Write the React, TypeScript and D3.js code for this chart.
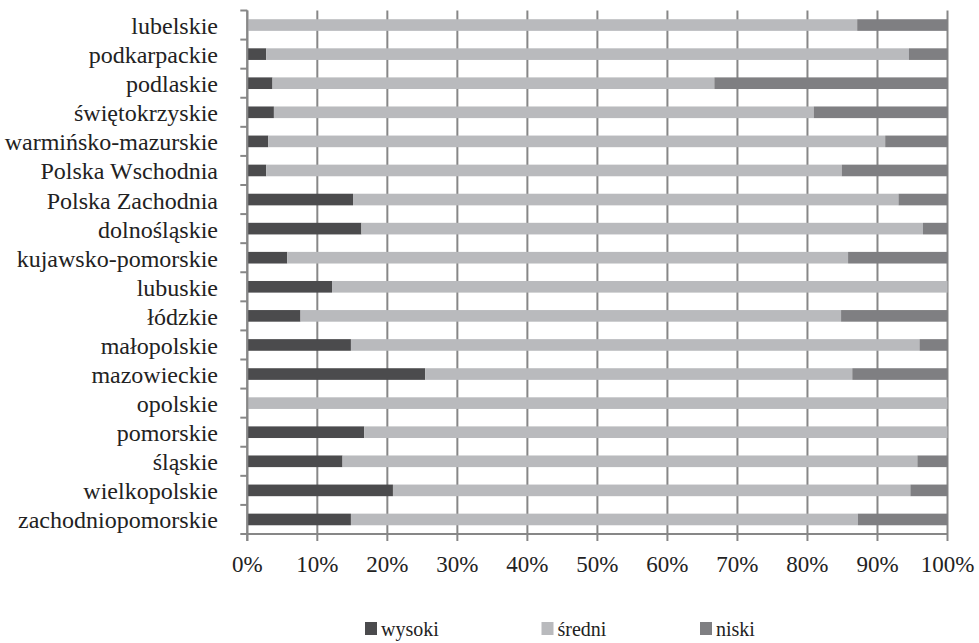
import React from "react";
import * as d3 from "d3";

const categories = [
  "lubelskie", "podkarpackie", "podlaskie", "świętokrzyskie", "warmińsko-mazurskie",
  "Polska Wschodnia", "Polska Zachodnia", "dolnośląskie", "kujawsko-pomorskie", "lubuskie",
  "łódzkie", "małopolskie", "mazowieckie", "opolskie", "pomorskie", "śląskie",
  "wielkopolskie", "zachodniopomorskie",
];
const wysoki = [0, 2.7, 3.6, 3.8, 3.0, 2.7, 15.1, 16.3, 5.7, 12.1, 7.6, 14.8, 25.4, 0, 16.7, 13.6, 20.8, 14.8];
const sredni = [87.1, 91.8, 63.1, 77.1, 88.1, 82.2, 77.9, 80.2, 80.1, 87.9, 77.2, 81.2, 61.0, 100, 83.3, 82.1, 73.9, 72.4];
const niski = [12.9, 5.5, 33.3, 19.1, 8.9, 15.1, 7.0, 3.5, 14.2, 0, 15.2, 4.0, 13.6, 0, 0, 4.3, 5.3, 12.8];
const seriesNames = ["wysoki", "średni", "niski"];
const tickValues = [0, 10, 20, 30, 40, 50, 60, 70, 80, 90, 100];

const colors = ["#4b4b4d", "#b9babd", "#7f7f82"];
const gridColor = "#878787";
const FONT = "'Liberation Serif', 'Times New Roman', serif";

export default function App() {
  const W = 979, H = 643;
  const left = 247.3, right = 947.5, top = 10.5, bottom = 534;
  const x = d3.scaleLinear().domain([0, 100]).range([left, right]);
  const y = d3.scaleBand<string>().domain(categories).range([top, bottom]).paddingInner(0.6).paddingOuter(0.3);
  const band = d3.scaleBand<string>().domain(categories).range([top, bottom]);

  const rows = categories.map((c, i) => ({ c, vals: [wysoki[i], sredni[i], niski[i]] }));
  const stack = d3.stack<any>().keys(["0", "1", "2"]).value((d, k) => d.vals[+k]);
  const stacked = stack(rows as any);

  const legendX = [365, 541.5, 700];

  return (
    <svg width={W} height={H} style={{ position: "absolute", left: 0, top: 0, background: "#fff" }}>
      {tickValues.map((t) => (
        <line key={"g" + t} x1={x(t)} x2={x(t)} y1={top} y2={bottom + 7} stroke={gridColor} strokeWidth={2} />
      ))}
      {stacked.map((s, si) =>
        s.map((d, i) => (
          <rect key={si + "-" + i} x={x(d[0])} y={y(categories[i])!} width={Math.max(0, x(d[1]) - x(d[0]))}
            height={y.bandwidth()} fill={colors[si]} />
        ))
      )}
      <line x1={left} x2={left} y1={top} y2={bottom + 7} stroke={gridColor} strokeWidth={2} />
      <line x1={left - 7} x2={right} y1={bottom} y2={bottom} stroke={gridColor} strokeWidth={2} />
      {categories.map((c, i) => (
        <line key={"yt" + i} x1={left - 7} x2={left} y1={band(c)!} y2={band(c)!} stroke={gridColor} strokeWidth={2} />
      ))}
      {categories.map((c) => (
        <text key={"l" + c} x={218} y={band(c)! + band.bandwidth() / 2 + 9} textAnchor="end"
          fontFamily={FONT} fontSize={24} fill="#222">{c}</text>
      ))}
      {tickValues.map((t) => (
        <text key={"t" + t} x={x(t)} y={572} textAnchor="middle" fontFamily={FONT} fontSize={23} fill="#222">{t}%</text>
      ))}
      {seriesNames.map((n, i) => (
        <g key={"lg" + n}>
          <rect x={legendX[i]} y={622} width={12} height={13} fill={colors[i]} />
          <text x={legendX[i] + 16} y={636} fontFamily={FONT} fontSize={20} fill="#222">{n}</text>
        </g>
      ))}
    </svg>
  );
}
